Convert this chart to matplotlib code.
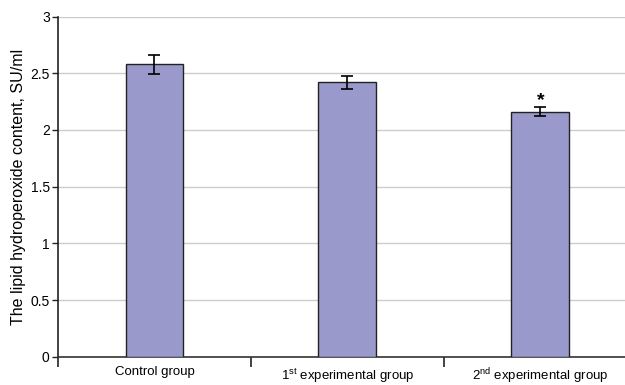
import matplotlib
matplotlib.use('Agg')
import matplotlib.pyplot as plt
import numpy as np

categories = ["Control group", "1st experimental group", "2nd experimental group"]
tick_labels = ["Control group", r"1$^{\rm st}$ experimental group", r"2$^{\rm nd}$ experimental group"]
values = [2.58, 2.42, 2.16]
errors = [0.085, 0.06, 0.04]
marks = ["", "", "*"]

plt.rcParams['font.family'] = ['Liberation Sans', 'DejaVu Sans']
plt.rcParams['mathtext.fontset'] = 'custom'
plt.rcParams['mathtext.rm'] = 'Liberation Sans'

fig = plt.figure(figsize=(6.25, 3.85), dpi=100)
ax = fig.add_axes([0.0928, 0.0735, 0.926, 0.8835])

x = np.arange(len(values))
ax.bar(x, values, width=0.30, color='#9999cc', edgecolor='#222222', linewidth=1.0, zorder=3)
ax.errorbar(x, values, yerr=errors, fmt='none', ecolor='black', elinewidth=1.2,
            capsize=4, capthick=1.2, zorder=4)
for xi, v, e, m in zip(x, values, errors, marks):
    if m:
        ax.text(xi, v + e - 0.02, m, ha='center', va='bottom', fontsize=14,
                fontweight='bold')

ax.set_xlim(-0.5, 2.5)
ax.set_ylim(0, 3)
ax.set_yticks(np.arange(0, 3.01, 0.5))
ax.set_yticklabels(["0", "0.5", "1", "1.5", "2", "2.5", "3"], fontsize=10)
ax.yaxis.grid(True, color='#cccccc', linewidth=1.0, zorder=0)
ax.set_axisbelow(True)

# category boundaries as ticks, labels at centers
ax.set_xticks([-0.5, 0.5, 1.5, 2.5])
ax.set_xticklabels([])
ax.set_xticks(x, minor=True)
ax.set_xticklabels(tick_labels, minor=True, fontsize=9.5)
ax.tick_params(axis='x', which='major', direction='out', length=7, width=1.2, color='#222222')
ax.tick_params(axis='x', which='minor', length=0, pad=7)
ax.tick_params(axis='y', direction='out', length=4, width=1.0, color='#222222', pad=2)

for side in ['top', 'right']:
    ax.spines[side].set_visible(False)
ax.spines['left'].set_color('#222222')
ax.spines['bottom'].set_color('#333333')
ax.spines['left'].set_linewidth(1.2)
ax.spines['bottom'].set_linewidth(1.2)

ax.set_ylabel("The lipid hydroperoxide content, SU/ml", fontsize=11.5, labelpad=3)

fig.savefig('out.png', dpi=100)
